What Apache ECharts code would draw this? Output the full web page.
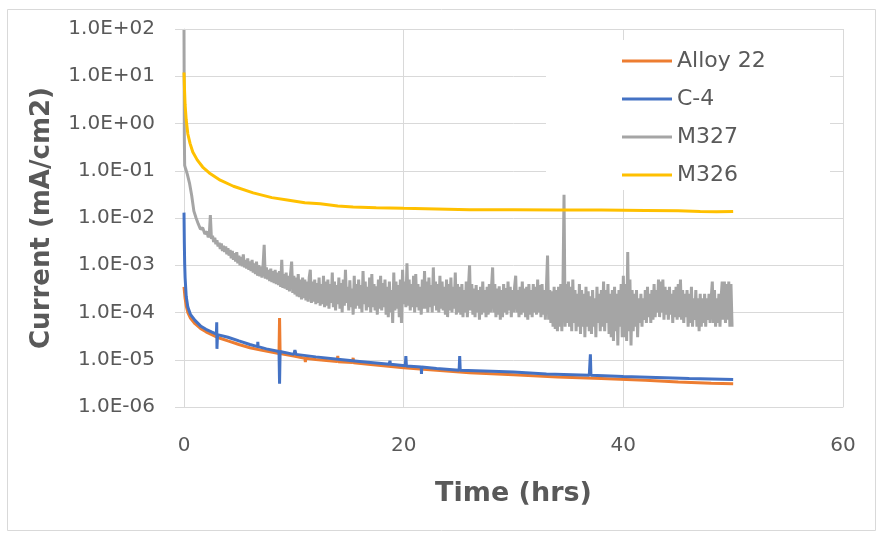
<!DOCTYPE html>
<html>
<head>
<meta charset="utf-8">
<script src="https://cdn.jsdelivr.net/npm/echarts@6/dist/echarts.min.js"></script>
<style>
  html, body { margin: 0; padding: 0; background: #fff; }
  #chart { width: 884px; height: 537px; }
</style>
</head>
<body>
<div id="chart"></div>
<script>
// Potentiostatic hold: current density vs. time for four alloys
const seriesNames = ['Alloy 22', 'C-4', 'M327', 'M326'];
const xTicks = [0, 20, 40, 60];
const yTickDecades = ['1.0E-06', '1.0E-05', '1.0E-04', '1.0E-03', '1.0E-02', '1.0E-01', '1.0E+00', '1.0E+01', '1.0E+02'];

// [time (hrs), current (mA/cm2)]
const alloy22 = [
  [0, 0.00035], [0.1, 0.0002], [0.2, 0.00014], [0.35, 0.0001], [0.6, 0.000075], [1, 0.000058],
  [1.5, 0.000046], [2, 0.000039], [3, 0.00003], [4, 0.000025], [5, 0.000021], [6, 0.000018],
  [7, 0.000016], [8.65, 0.0000135], [8.7, 0.000076], [8.75, 0.0000135], [10, 0.000012],
  [11, 0.0000108], [11.05, 0.000009], [11.1, 0.0000107], [12, 0.0000101], [13.95, 0.0000092],
  [14.0, 0.000012], [14.05, 0.0000091], [15.35, 0.0000087], [15.4, 0.000011], [15.45, 0.0000086],
  [17, 0.0000079], [20, 0.0000068], [23, 0.000006], [26, 0.0000053], [30, 0.0000048],
  [34, 0.0000043], [38, 0.000004], [42, 0.0000037], [45, 0.0000034], [48, 0.0000032], [50, 0.0000031]
];

const c4 = [
  [0, 0.013], [0.03, 0.003], [0.06, 0.0011], [0.1, 0.00055], [0.2, 0.00022], [0.35, 0.00013],
  [0.6, 0.00009], [1, 0.000068], [1.5, 0.000052], [2, 0.000044], [2.5, 0.000039], [2.95, 0.000035],
  [2.98, 0.000062], [3.0, 0.000017], [3.05, 0.000034], [4, 0.00003], [5, 0.000025], [6, 0.000021],
  [6.7, 0.000019], [6.72, 0.000024], [6.75, 0.000019], [7.5, 0.000017], [8.65, 0.000015],
  [8.7, 0.0000031], [8.75, 0.000015], [10, 0.000013], [10.1, 0.000016], [10.2, 0.000013],
  [12, 0.0000115], [14, 0.0000102], [16, 0.0000092], [18.7, 0.000008], [18.75, 0.0000095],
  [18.8, 0.000008], [20.15, 0.0000075], [20.2, 0.000012], [20.25, 0.0000074], [21.6, 0.000007],
  [21.62, 0.000005], [21.65, 0.000007], [23, 0.0000065], [25.05, 0.000006], [25.1, 0.000012],
  [25.15, 0.000006], [28, 0.0000057], [30, 0.0000055], [33, 0.000005], [36.9, 0.0000047],
  [37.0, 0.000013], [37.05, 0.0000047], [40, 0.0000044], [43, 0.0000042], [46, 0.000004],
  [48, 0.0000039], [50, 0.0000038]
];

const m327 = [
  [0, 95], [0.03, 0.5], [0.06, 0.13], [0.15, 0.11], [0.3, 0.085], [0.5, 0.055], [0.7, 0.03],
  [0.9, 0.014], [1.1, 0.01], [1.3, 0.0075], [1.5, 0.0058], [1.7, 0.0062], [1.9, 0.0046],
  [2.0,4.6e-3],[2.1,5.2e-3],[2.2,3.9e-3],[2.3,4.4e-3],[2.4,1.15e-2],[2.5,3.6e-3],[2.6,4.2e-3],[2.7,3.1e-3],[2.8,3.8e-3],[2.9,2.8e-3],
  [3.0,3.4e-3],[3.1,2.5e-3],[3.2,3.0e-3],[3.3,2.2e-3],[3.4,2.9e-3],[3.5,2.0e-3],[3.6,2.6e-3],[3.7,1.9e-3],[3.8,2.5e-3],[3.9,1.7e-3],
  [4.0,2.3e-3],[4.1,1.6e-3],[4.2,2.1e-3],[4.3,1.4e-3],[4.4,2.0e-3],[4.5,1.3e-3],[4.6,1.8e-3],[4.7,1.2e-3],[4.8,1.9e-3],[4.9,1.1e-3],
  [5.0,1.6e-3],[5.1,1.0e-3],[5.2,1.5e-3],[5.3,9.5e-4],[5.4,1.7e-3],[5.5,9e-4],[5.6,1.3e-3],[5.7,8.5e-4],[5.8,1.4e-3],[5.9,8e-4],
  [6.0,1.2e-3],[6.1,7.5e-4],[6.2,1.3e-3],[6.3,7e-4],[6.4,1.1e-3],[6.5,6.5e-4],[6.6,1.2e-3],[6.7,6e-4],[6.8,1.0e-3],[6.9,5.8e-4],
  [7.0,9.5e-4],[7.1,5.5e-4],[7.2,1.0e-3],[7.3,2.7e-3],[7.4,5.2e-4],[7.5,9e-4],[7.6,5e-4],[7.7,8e-4],[7.8,4.6e-4],[7.9,8.5e-4],
  [8.0,4.4e-4],[8.1,7.5e-4],[8.2,4.2e-4],[8.3,8e-4],[8.4,4e-4],[8.5,7e-4],[8.6,3.8e-4],[8.7,7.5e-4],[8.8,3.5e-4],[8.9,1.3e-3],
  [9.0,3.3e-4],[9.1,6.5e-4],[9.2,3.2e-4],[9.3,7e-4],[9.4,3e-4],[9.5,6e-4],[9.6,2.8e-4],[9.7,6.5e-4],[9.8,1.2e-3],[9.9,2.6e-4],
  [10.0,6e-4],[10.1,2.4e-4],[10.2,5.5e-4],[10.3,2.2e-4],[10.4,6.5e-4],[10.5,2.1e-4],[10.6,5e-4],[10.7,1.9e-4],[10.8,5.5e-4],[10.9,2e-4],
  [11.0,5e-4],[11.1,1.8e-4],[11.2,4.5e-4],[11.3,1.7e-4],[11.4,5.5e-4],[11.5,8e-4],[11.6,1.6e-4],[11.7,4.5e-4],[11.8,1.7e-4],[11.9,5e-4],
  [12.0,1.5e-4],[12.1,4.2e-4],[12.2,1.6e-4],[12.3,5.5e-4],[12.4,1.4e-4],[12.5,4e-4],[12.6,1.5e-4],[12.7,6e-4],[12.8,1.3e-4],[12.9,4.5e-4],
  [13.0,1.4e-4],[13.1,5e-4],[13.2,1.2e-4],[13.3,4e-4],[13.4,1.6e-4],[13.5,7e-4],[13.6,1.3e-4],[13.7,4.5e-4],[13.8,1.1e-4],[13.9,3.8e-4],
  [14.0,1.5e-4],[14.1,5.5e-4],[14.2,1.2e-4],[14.3,4.2e-4],[14.4,1.0e-4],[14.5,5e-4],[14.6,1.4e-4],[14.7,8e-4],[14.8,1.6e-4],[14.9,3.5e-4],
  [15.0,1.1e-4],[15.1,4.8e-4],[15.2,1.3e-4],[15.3,3.2e-4],[15.4,9e-5],[15.5,6e-4],[15.6,1.2e-4],[15.7,4e-4],[15.8,1.4e-4],[15.9,5e-4],
  [16.0,1.2e-4],[16.1,3.8e-4],[16.2,1.0e-4],[16.3,7.5e-4],[16.4,1.5e-4],[16.5,4.5e-4],[16.6,1.1e-4],[16.7,3.5e-4],[16.8,1.3e-4],[16.9,5.5e-4],
  [17.0,1.0e-4],[17.1,6.5e-4],[17.2,1.3e-4],[17.3,4e-4],[17.4,1.1e-4],[17.5,3.6e-4],[17.6,9e-5],[17.7,5e-4],[17.8,1.2e-4],[17.9,6e-4],
  [18.0,1.1e-4],[18.1,4.2e-4],[18.2,1.3e-4],[18.3,5e-4],[18.4,9e-5],[18.5,3.5e-4],[18.6,8e-5],[18.7,4.5e-4],[18.8,1.0e-4],[18.9,3e-4],
  [19.0,6e-5],[19.1,7e-4],[19.2,1.1e-4],[19.3,4.5e-4],[19.4,1.2e-4],[19.5,3.8e-4],[19.6,8e-5],[19.7,5e-4],[19.8,6e-5],[19.9,8e-4],
  [20.0,1.5e-4],[20.1,4.5e-4],[20.2,1.3e-4],[20.3,1.1e-3],[20.4,1.4e-4],[20.5,5e-4],[20.6,1.1e-4],[20.7,4e-4],[20.8,1.3e-4],[20.9,6e-4],
  [21.0,1.0e-4],[21.1,6.5e-4],[21.2,1.3e-4],[21.3,4e-4],[21.4,1.1e-4],[21.5,3.5e-4],[21.6,9e-5],[21.7,5e-4],[21.8,1.2e-4],[21.9,7.5e-4],
  [22.0,1.2e-4],[22.1,4.5e-4],[22.2,1.0e-4],[22.3,5.5e-4],[22.4,1.3e-4],[22.5,3.8e-4],[22.6,1.0e-4],[22.7,9e-4],[22.8,1.4e-4],[22.9,4.5e-4],
  [23.0,1.1e-4],[23.1,4e-4],[23.2,1.0e-4],[23.3,6e-4],[23.4,1.2e-4],[23.5,4.5e-4],[23.6,1.1e-4],[23.7,3.5e-4],[23.8,9e-5],[23.9,5e-4],
  [24.0,8e-5],[24.1,4e-4],[24.2,1.1e-4],[24.3,5.5e-4],[24.4,1.0e-4],[24.5,3.5e-4],[24.6,1.2e-4],[24.7,7e-4],[24.8,9e-5],[24.9,4e-4],
  [25.0,1.0e-4],[25.1,3.5e-4],[25.2,9e-5],[25.3,4e-4],[25.4,8e-5],[25.5,3e-4],[25.6,1.0e-4],[25.7,4.5e-4],[25.8,8e-5],[25.9,3.5e-4],
  [26.0,1.0e-3],[26.1,1.1e-4],[26.2,4e-4],[26.3,9e-5],[26.4,3.2e-4],[26.5,8e-5],[26.6,3.8e-4],[26.7,1.0e-4],[26.8,3e-4],[26.9,7e-5],
  [27.0,3.5e-4],[27.1,9e-5],[27.2,4.5e-4],[27.3,1.0e-4],[27.4,3e-4],[27.5,8e-5],[27.6,3.5e-4],[27.7,9e-5],[27.8,4e-4],[27.9,1.0e-4],
  [28.0,3.5e-4],[28.1,9e-4],[28.2,1.0e-4],[28.3,4e-4],[28.4,8e-5],[28.5,3.2e-4],[28.6,9e-5],[28.7,3.6e-4],[28.8,7e-5],[28.9,3e-4],
  [29.0,8e-5],[29.1,4e-4],[29.2,1.0e-4],[29.3,3.3e-4],[29.4,9e-5],[29.5,4.5e-4],[29.6,1.1e-4],[29.7,3.5e-4],[29.8,8e-5],[29.9,3e-4],
  [30.0,1.0e-4],[30.1,3.5e-4],[30.2,6e-4],[30.3,1.0e-4],[30.4,3e-4],[30.5,8e-5],[30.6,3.5e-4],[30.7,9e-5],[30.8,4.5e-4],[30.9,1.0e-4],
  [31.0,3.2e-4],[31.1,8e-5],[31.2,3.5e-4],[31.3,7e-5],[31.4,4e-4],[31.5,9e-5],[31.6,3e-4],[31.7,8e-5],[31.8,4e-4],[31.9,1.0e-4],
  [32.0,3.5e-4],[32.1,9e-5],[32.2,5e-4],[32.3,1.0e-4],[32.4,3.8e-4],[32.5,8e-5],[32.6,4e-4],[32.7,9e-5],[32.8,3e-4],[32.9,7e-5],
  [33.0,3.5e-4],[33.1,1.6e-3],[33.2,7e-5],[33.3,3e-4],[33.4,6e-5],[33.5,2.8e-4],[33.6,5e-5],[33.7,3.5e-4],[33.8,4.5e-5],[33.9,3e-4],
  [34.0,4e-5],[34.1,3.5e-4],[34.2,5e-5],[34.3,4e-4],[34.4,4e-5],[34.5,3e-4],[34.6,3.1e-2],[34.7,5e-5],[34.8,4e-4],[34.9,6e-5],
  [35.0,4.5e-4],[35.1,5e-5],[35.2,3.5e-4],[35.3,4e-5],[35.4,5e-4],[35.5,6e-5],[35.6,3e-4],[35.7,4e-5],[35.8,2.5e-4],[35.9,5e-5],
  [36.0,4e-4],[36.1,3.5e-5],[36.2,3e-4],[36.3,5e-5],[36.4,2.5e-4],[36.5,3e-5],[36.6,3.5e-4],[36.7,5e-5],[36.8,2.8e-4],[36.9,4e-5],
  [37.0,2.2e-4],[37.1,3.5e-5],[37.2,3e-4],[37.3,5e-5],[37.4,2e-4],[37.5,3e-5],[37.6,3.5e-4],[37.7,6e-5],[37.8,2.5e-4],[37.9,4e-5],
  [38.0,3e-4],[38.1,5e-5],[38.2,4.5e-4],[38.3,4e-5],[38.4,3e-4],[38.5,6e-5],[38.6,4e-4],[38.7,3.5e-5],[38.8,2.5e-4],[38.9,3e-5],
  [39.0,3e-4],[39.1,2.5e-5],[39.2,3.5e-4],[39.3,4e-5],[39.4,2.5e-4],[39.5,2e-5],[39.6,3e-4],[39.7,5e-5],[39.8,4e-4],[39.9,3e-5],
  [40.0,6e-4],[40.1,3e-5],[40.2,4e-4],[40.3,2.5e-5],[40.4,1.9e-3],[40.5,4e-5],[40.6,5e-4],[40.7,2e-5],[40.8,3e-4],[40.9,4e-5],
  [41.0,2.5e-4],[41.1,5e-5],[41.2,3e-4],[41.3,3e-5],[41.4,2e-4],[41.5,6e-5],[41.6,2.5e-4],[41.7,5e-5],[41.8,2e-4],[41.9,7e-5],
  [42.0,3e-4],[42.1,6e-5],[42.2,3.5e-4],[42.3,8e-5],[42.4,2.5e-4],[42.5,6e-5],[42.6,3e-4],[42.7,7e-5],[42.8,4e-4],[42.9,8e-5],
  [43.0,3e-4],[43.1,1e-4],[43.2,5e-4],[43.3,8e-5],[43.4,4.5e-4],[43.5,1e-4],[43.6,5e-4],[43.7,7e-5],[43.8,3.5e-4],[43.9,9e-5],
  [44.0,3e-4],[44.1,7e-5],[44.2,3.5e-4],[44.3,9e-5],[44.4,2.5e-4],[44.5,6e-5],[44.6,3e-4],[44.7,8e-5],[44.8,3.5e-4],[44.9,7e-5],
  [45.0,4e-4],[45.1,8e-5],[45.2,5e-4],[45.3,7e-5],[45.4,3e-4],[45.5,6e-5],[45.6,2.5e-4],[45.7,8e-5],[45.8,3e-4],[45.9,5e-5],
  [46.0,2.5e-4],[46.1,6e-5],[46.2,3.5e-4],[46.3,5e-5],[46.4,2e-4],[46.5,7e-5],[46.6,3e-4],[46.7,5e-5],[46.8,2e-4],[46.9,4e-5],
  [47.0,2.5e-4],[47.1,5e-5],[47.2,2e-4],[47.3,6e-5],[47.4,2.5e-4],[47.5,5e-5],[47.6,2e-4],[47.7,7e-5],[47.8,2.5e-4],[47.9,6e-5],
  [48.0,2e-4],[48.1,4.5e-4],[48.2,6e-5],[48.3,3e-4],[48.4,5e-5],[48.5,2e-4],[48.6,6e-5],[48.7,2.5e-4],[48.8,5e-5],[48.9,2e-4],
  [49.0,4.5e-4],[49.1,7e-5],[49.2,4.5e-4],[49.3,6e-5],[49.4,4e-4],[49.5,7e-5],[49.6,4.5e-4],[49.7,5e-5],[49.8,4e-4],[49.9,5e-5]
];

const m326 = [
  [0, 12], [0.05, 5], [0.1, 2.5], [0.2, 1.2], [0.35, 0.6], [0.55, 0.38], [0.8, 0.25], [1.2, 0.17],
  [1.7, 0.12], [2.3, 0.09], [3.3, 0.063], [4.5, 0.047], [6.3, 0.034], [8, 0.027], [9.4, 0.024],
  [11, 0.021], [12.4, 0.02], [14, 0.018], [15.4, 0.017], [17.5, 0.0165], [20, 0.016], [23, 0.0155],
  [26, 0.015], [30, 0.015], [34, 0.0148], [38, 0.0148], [42, 0.0145], [45, 0.0142], [47, 0.0137],
  [48.5, 0.0135], [50, 0.0138]
];

const seriesColors = ['#ED7D31', '#4472C4', '#A5A5A5', '#FFC000'];
const FONT = 'DejaVu Sans';
const TEXT = '#595959';
const GRID = '#d9d9d9';

// Exponent label such as 1.0E-03
function sciLabel(v) {
  const e = Math.round(Math.log10(v));
  const label = '1.0E' + (e < 0 ? '-' : '+') + String(Math.abs(e)).padStart(2, '0');
  return yTickDecades.includes(label) ? label : '';
}

const chart = echarts.init(document.getElementById('chart'), null, { renderer: 'canvas' });

const dataSets = [alloy22, c4, m327, m326];

chart.setOption({
  animation: false,
  backgroundColor: '#ffffff',
  grid: { left: 184, right: 41, top: 29, bottom: 130, containLabel: false },
  graphic: [
    {
      type: 'rect', z: -10, silent: true,
      shape: { x: 7.5, y: 9.5, width: 868, height: 521 },
      style: { fill: 'none', stroke: GRID, lineWidth: 1 }
    },
    {
      type: 'rect', z: 1, silent: true,
      shape: { x: 546, y: 40, width: 284, height: 150 },
      style: { fill: '#ffffff' }
    }
  ],
  legend: {
    orient: 'vertical',
    left: 617,
    top: 43,
    itemWidth: 50,
    itemHeight: 3,
    itemGap: 12,
    icon: 'rect',
    data: seriesNames,
    textStyle: { fontFamily: FONT, fontSize: 22, color: TEXT, lineHeight: 26, padding: [0, 0, 0, 0] }
  },
  xAxis: {
    type: 'value',
    min: xTicks[0],
    max: xTicks[xTicks.length - 1],
    interval: 20,
    name: 'Time (hrs)',
    nameLocation: 'middle',
    nameGap: 73,
    nameTextStyle: { fontFamily: FONT, fontSize: 27, fontWeight: 'bold', color: TEXT },
    axisLine: { show: true, lineStyle: { color: GRID, width: 1 } },
    axisTick: { show: false },
    axisLabel: { fontFamily: FONT, fontSize: 20, color: TEXT, margin: 29 },
    splitLine: { show: true, lineStyle: { color: GRID, width: 1 } }
  },
  yAxis: {
    type: 'log',
    logBase: 10,
    min: 1e-6,
    max: 100,
    interval: 1,
    name: 'Current (mA/cm2)',
    nameLocation: 'middle',
    nameGap: 129,
    nameTextStyle: { fontFamily: FONT, fontSize: 26, fontWeight: 'bold', color: TEXT },
    axisLine: { show: true, lineStyle: { color: GRID, width: 1 } },
    axisTick: { show: true, length: 9, lineStyle: { color: GRID, width: 1 } },
    axisLabel: { fontFamily: FONT, fontSize: 20, color: TEXT, margin: 29, formatter: sciLabel },
    splitLine: { show: true, lineStyle: { color: GRID, width: 1 } }
  },
  series: seriesNames.map((name, i) => ({
    name: name,
    type: 'line',
    data: dataSets[i],
    showSymbol: false,
    symbol: 'none',
    sampling: null,
    z: 2 + i,
    lineStyle: { color: seriesColors[i], width: 3 },
    itemStyle: { color: seriesColors[i] }
  }))
});
</script>
</body>
</html>
